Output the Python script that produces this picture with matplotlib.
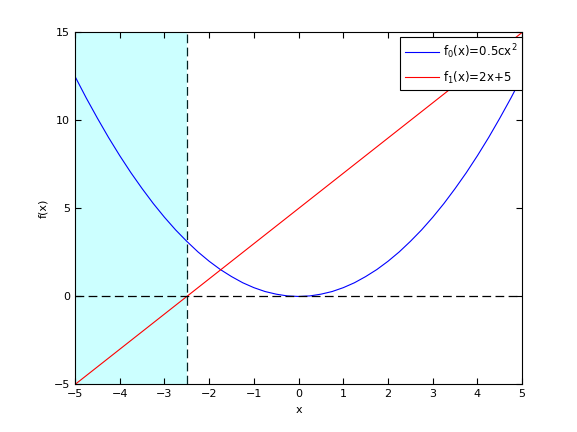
import matplotlib
matplotlib.use("Agg")
import matplotlib.pyplot as plt

# values
x_curve = [-5.0, -4.75, -4.5, -4.25, -4.0, -3.75, -3.5, -3.25, -3.0, -2.75,
           -2.5, -2.25, -2.0, -1.75, -1.5, -1.25, -1.0, -0.75, -0.5, -0.25,
           0.0, 0.25, 0.5, 0.75, 1.0, 1.25, 1.5, 1.75, 2.0, 2.25, 2.5, 2.75,
           3.0, 3.25, 3.5, 3.75, 4.0, 4.25, 4.5, 4.75, 5.0]
f0_vals = [12.5, 11.28, 10.13, 9.03, 8.0, 7.03, 6.13, 5.28, 4.5, 3.78,
           3.13, 2.53, 2.0, 1.53, 1.13, 0.78, 0.5, 0.28, 0.13, 0.03,
           0.0, 0.03, 0.13, 0.28, 0.5, 0.78, 1.13, 1.53, 2.0, 2.53, 3.13, 3.78,
           4.5, 5.28, 6.13, 7.03, 8.0, 9.03, 10.13, 11.28, 12.5]
x_line = [-5.0, 5.0]
f1_vals = [-5.0, 15.0]
root_x = -2.5
shade_x = [-5.0, -2.5]

x_ticks = [-5, -4, -3, -2, -1, 0, 1, 2, 3, 4, 5]
y_ticks = [-5, 0, 5, 10, 15]

plt.rcParams.update({
    "font.family": "DejaVu Sans",
    "font.size": 8,
    "axes.linewidth": 0.8,
    "xtick.direction": "in",
    "ytick.direction": "in",
    "xtick.top": True,
    "ytick.right": True,
    "xtick.major.size": 4,
    "ytick.major.size": 4,
})

fig = plt.figure(figsize=(5.77, 4.32), dpi=100)
ax = fig.add_axes([0.13, 0.11, 0.775, 0.815])

ax.axvspan(shade_x[0], shade_x[1], color="#ccffff", zorder=0, linewidth=0)
ax.plot(x_curve, f0_vals, color="blue", linewidth=0.8, label=r"f$_0$(x)=0.5cx$^2$")
ax.plot(x_line, f1_vals, color="red", linewidth=0.8, label=r"f$_1$(x)=2x+5")
ax.axhline(0, color="black", linestyle=(0, (7, 3.5)), linewidth=0.9)
ax.axvline(root_x, color="#002222", linestyle=(0, (7, 3.5)), linewidth=0.9)

ax.set_xlim(-5, 5)
ax.set_ylim(-5, 15)
ax.set_xticks(x_ticks)
ax.set_yticks(y_ticks)
ax.set_xlabel("x")
ax.set_ylabel("f(x)")

leg = ax.legend(loc="upper right", bbox_to_anchor=(1.0, 0.986),
                fancybox=False, edgecolor="black", framealpha=1,
                fontsize=8.5, handlelength=2.9, borderaxespad=0.0,
                handletextpad=0.35, borderpad=0.4, labelspacing=0.75)
leg.get_frame().set_linewidth(0.8)

fig.savefig("out.png", dpi=100)
